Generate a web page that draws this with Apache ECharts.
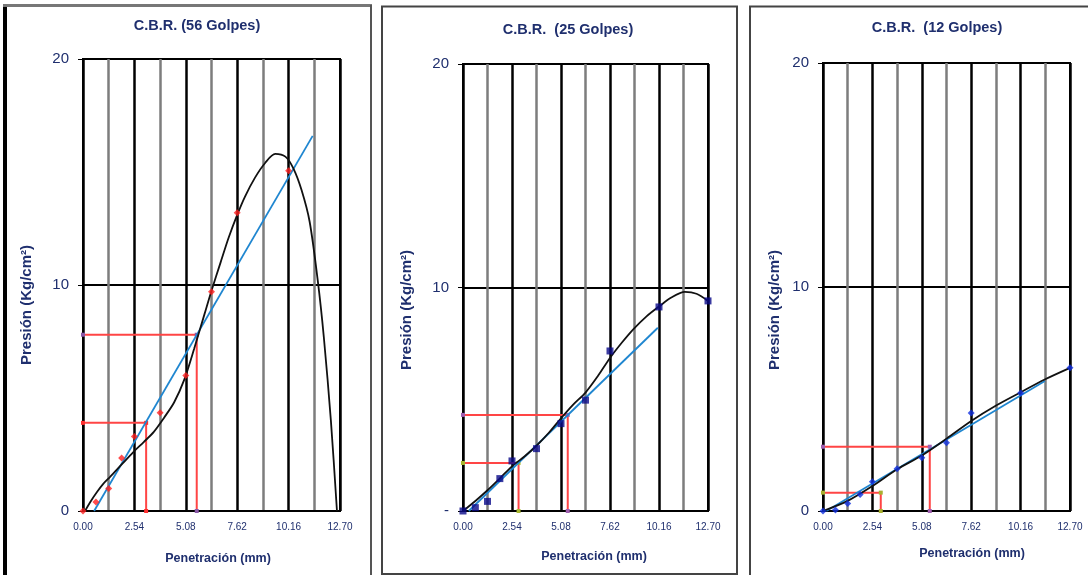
<!DOCTYPE html>
<html>
<head>
<meta charset="utf-8">
<script src="https://cdn.jsdelivr.net/npm/echarts@6/dist/echarts.min.js"></script>
<style>
  html, body { margin: 0; padding: 0; background: #ffffff; }
  #chart { width: 1088px; height: 575px; }
</style>
</head>
<body>
<div id="chart"></div>
<script>
// Penetration steps (mm) used by all three CBR tests
const penetration = [0, 0.64, 1.27, 1.91, 2.54, 3.81, 5.08, 6.35, 7.62, 10.16, 12.70];

// Measured pressure (kg/cm2) per test
const pressure56 = [0, 0.4, 1.0, 2.35, 3.3, 4.35, 6.0, 9.7, 13.2, 15.05];
const pressure25 = [0, 0.15, 0.43, 1.45, 2.24, 2.79, 3.91, 4.96, 7.16, 9.13, 9.40];
const pressure12 = [0, 0.05, 0.34, 0.74, 1.31, 1.89, 2.38, 3.05, 4.38, 5.27, 6.39];

// Fitted curves (black), sampled along the trend
const curve56X = [0.1, 0.4, 0.7, 1.0, 1.35, 1.9, 2.5, 3.0, 3.5, 4.0, 4.5, 5.0, 5.5, 6.0, 6.35, 6.8, 7.2, 7.62, 8.0, 8.5, 9.0, 9.5, 10.0, 10.4, 10.8, 11.2, 11.6, 11.9, 12.25, 12.55];
const curve56Y = [0, 0.45, 0.85, 1.2, 1.52, 2.05, 2.62, 3.05, 3.5, 4.12, 4.8, 5.8, 7.2, 8.7, 9.75, 11.0, 12.1, 13.1, 13.9, 14.75, 15.4, 15.8, 15.68, 15.15, 14.2, 12.8, 10.2, 7.7, 4.0, 0];
const curve25X = [0, 0.64, 1.27, 1.9, 2.54, 3.2, 3.81, 4.45, 5.08, 5.7, 6.35, 7.0, 7.62, 8.25, 8.85, 9.5, 10.16, 10.8, 11.5, 12.1, 12.7];
const curve25Y = [0, 0.45, 0.93, 1.45, 2.0, 2.45, 2.92, 3.5, 4.15, 4.75, 5.3, 6.05, 6.85, 7.55, 8.15, 8.7, 9.15, 9.55, 9.8, 9.72, 9.4];
const curve12X = [0, 1.27, 2.54, 3.81, 5.08, 6.35, 7.62, 8.9, 10.16, 11.4, 12.7];
const curve12Y = [0, 0.45, 1.11, 1.86, 2.48, 3.23, 4.02, 4.71, 5.3, 5.87, 6.39];

// Straight-line fits (blue): start and end
const fit56X = [0.55, 11.35];
const fit56Y = [0, 16.6];
const fit25X = [0.3, 10.1];
const fit25Y = [0, 8.2];
const fit12X = [0.17, 11.41];
const fit12Y = [0, 5.8];

// Corrected readings at 0.1" and 0.2" (red guide lines)
const read56X = [3.12, 5.62];
const read56Y = [3.9, 7.8];
const read25X = [2.88, 5.43];
const read25Y = [2.15, 4.3];
const read12X = [2.97, 5.49];
const read12Y = [0.82, 2.87];

// Axis text
const xTickLabels = ['0.00', '2.54', '5.08', '7.62', '10.16', '12.70'];
const yTickLabels56 = ['0', '10', '20'];
const yTickLabels25 = ['-', '10', '20'];
const yTickLabels12 = ['0', '10', '20'];
const titles = ['C.B.R. (56 Golpes)', 'C.B.R.  (25 Golpes)', 'C.B.R.  (12 Golpes)'];
const yTitle = 'Presión (Kg/cm²)';
const xTitle = 'Penetración (mm)';

const pairs = (xs, ys) => ys.map((y, i) => [xs[i], y]);
const guide = (x, y) => [[0, y], [x, y], [x, 0]];

const NAVY = '#1f2f6e';
const FONT = '"Liberation Sans", Arial, sans-serif';

const grids = [
  { left: 83, top: 59, width: 257, height: 452 },
  { left: 463, top: 64, width: 245, height: 447 },
  { left: 823, top: 63, width: 247, height: 448 }
];

function xAxis(i) {
  return {
    type: 'value', gridIndex: i, min: 0, max: 12.7, interval: 1.27,
    axisLine: { show: true, onZero: false, lineStyle: { color: '#000', width: 2 } },
    axisTick: { show: false },
    axisLabel: {
      color: NAVY, fontFamily: FONT, fontSize: 10, margin: 11,
      formatter: v => {
        const k = Math.round(v / 1.27);
        return k % 2 === 0 ? xTickLabels[k / 2] : '';
      }
    },
    splitLine: { show: true, lineStyle: { color: ['#000', '#7d7d7d'], width: 2.5 } }
  };
}

function yAxis(i, labels) {
  return {
    type: 'value', gridIndex: i, min: 0, max: 20, interval: 10,
    axisLine: { show: true, lineStyle: { color: '#000', width: 2 } },
    axisTick: { show: true, length: 5, lineStyle: { color: '#000', width: 1 } },
    axisLabel: {
      color: NAVY, fontFamily: FONT, fontSize: 15, margin: 14,
      formatter: v => labels[Math.round(v / 10)]
    },
    splitLine: { show: true, lineStyle: { color: '#000', width: 2 } }
  };
}

function panelSeries(i, ptsY, ptsSymbol, ptsColor, cX, cY, fX, fY, rX, rY, markA, markB) {
  const base = { xAxisIndex: i, yAxisIndex: i, animation: false, silent: true };
  return [
    Object.assign({}, base, {
      type: 'line', data: guide(rX[0], rY[0]), symbol: 'rect', symbolSize: 4,
      lineStyle: { color: '#ff4545', width: 2 }, itemStyle: { color: markA }, z: 3
    }),
    Object.assign({}, base, {
      type: 'line', data: guide(rX[1], rY[1]), symbol: 'rect', symbolSize: 4,
      lineStyle: { color: '#ff4545', width: 2 }, itemStyle: { color: markB }, z: 3
    }),
    Object.assign({}, base, {
      type: 'line', data: pairs(fX, fY), symbol: 'none',
      lineStyle: { color: '#1f86d0', width: 1.8 }, z: 4
    }),
    Object.assign({}, base, {
      type: 'line', data: pairs(cX, cY), symbol: 'none', smooth: 0.3,
      lineStyle: { color: '#111', width: 1.8 }, z: 5
    }),
    Object.assign({}, base, {
      type: 'scatter', data: pairs(penetration, ptsY), symbol: ptsSymbol, symbolSize: 7,
      itemStyle: { color: ptsColor }, z: 6
    })
  ];
}

const textEl = (text, x, y, size, rot) => ({
  type: 'text', x: x, y: y, rotation: rot || 0, silent: true,
  style: {
    text: text, fill: NAVY, font: 'bold ' + size + 'px ' + FONT,
    align: 'center', verticalAlign: 'middle', textAlign: 'center', textVerticalAlign: 'middle'
  }
});

const frames = [
  { type: 'line', shape: { x1: 5, y1: 4, x2: 5, y2: 575 }, style: { stroke: '#000', lineWidth: 4 } },
  { type: 'line', shape: { x1: 3, y1: 5.5, x2: 372, y2: 5.5 }, style: { stroke: '#777', lineWidth: 3 } },
  { type: 'line', shape: { x1: 371, y1: 5, x2: 371, y2: 575 }, style: { stroke: '#555', lineWidth: 2 } },
  { type: 'rect', shape: { x: 382, y: 6.5, width: 355, height: 567.5 }, style: { fill: 'none', stroke: '#444', lineWidth: 2 } },
  { type: 'rect', shape: { x: 750, y: 6.5, width: 360, height: 580 }, style: { fill: 'none', stroke: '#444', lineWidth: 2 } }
];

const option = {
  backgroundColor: '#ffffff',
  animation: false,
  grid: grids.map(g => Object.assign({ show: true, borderColor: '#000', borderWidth: 2, containLabel: false }, g)),
  xAxis: [xAxis(0), xAxis(1), xAxis(2)],
  yAxis: [yAxis(0, yTickLabels56), yAxis(1, yTickLabels25), yAxis(2, yTickLabels12)],
  series: [].concat(
    panelSeries(0, pressure56, 'diamond', '#ff2020', curve56X, curve56Y, fit56X, fit56Y, read56X, read56Y, '#ff3030', '#8a5aa8'),
    panelSeries(1, pressure25, 'rect', '#0a0a8a', curve25X, curve25Y, fit25X, fit25Y, read25X, read25Y, '#a8b830', '#a060b0'),
    panelSeries(2, pressure12, 'diamond', '#1030e0', curve12X, curve12Y, fit12X, fit12Y, read12X, read12Y, '#a8b030', '#a060b0')
  ),
  graphic: frames.concat([
    textEl(titles[0], 197, 26, 14.5),
    textEl(titles[1], 568, 30, 14.5),
    textEl(titles[2], 937, 28, 14.5),
    textEl(yTitle, 27, 305, 15, Math.PI / 2),
    textEl(yTitle, 407, 310, 15, Math.PI / 2),
    textEl(yTitle, 775, 310, 15, Math.PI / 2),
    textEl(xTitle, 218, 559, 12.5),
    textEl(xTitle, 594, 557, 12.5),
    textEl(xTitle, 972, 554, 12.5)
  ])
};

const chart = echarts.init(document.getElementById('chart'), null, { renderer: 'canvas' });
chart.setOption(option);
</script>
</body>
</html>
